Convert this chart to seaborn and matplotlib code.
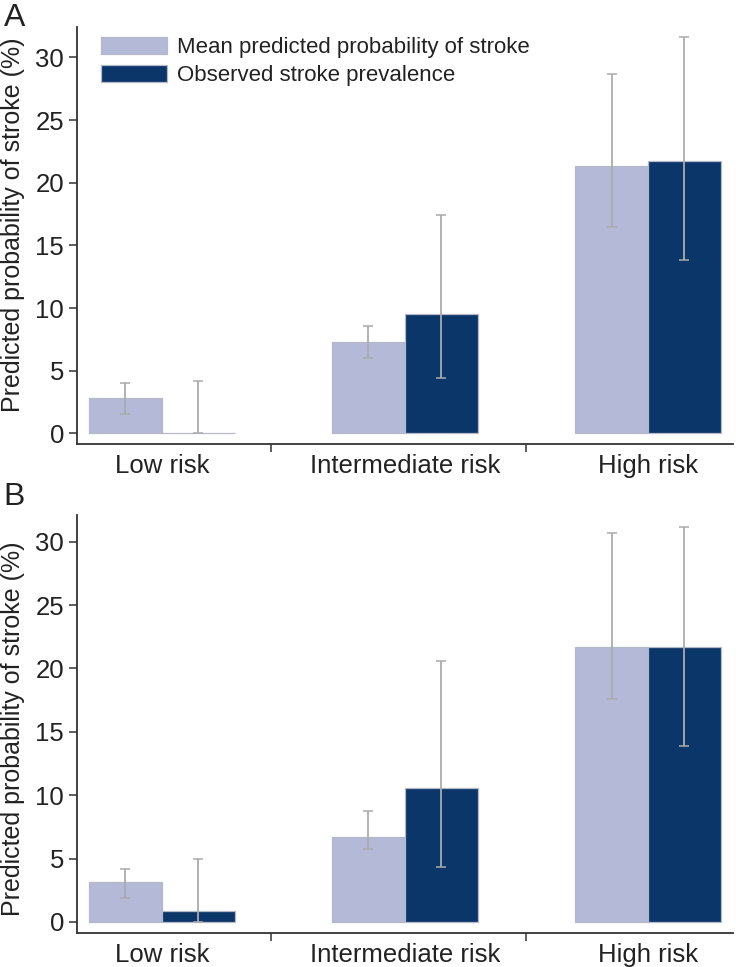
import matplotlib
matplotlib.use("Agg")
import matplotlib.pyplot as plt
import seaborn as sns
import pandas as pd
import numpy as np
from matplotlib.ticker import FixedLocator

categories = ["Low risk", "Intermediate risk", "High risk"]
series = ["Mean predicted probability of stroke", "Observed stroke prevalence"]

# Panel A
a_pred = [2.84, 7.26, 21.36]
a_pred_lo = [1.52, 5.99, 16.5]
a_pred_hi = [3.99, 8.59, 28.7]
a_obs = [0.0, 9.52, 21.7]
a_obs_lo = [0.0, 4.44, 13.8]
a_obs_hi = [4.2, 17.4, 31.6]

# Panel B
b_pred = [3.16, 6.71, 21.7]
b_pred_lo = [1.9, 5.79, 17.58]
b_pred_hi = [4.2, 8.74, 30.7]
b_obs = [0.87, 10.58, 21.65]
b_obs_lo = [0.0, 4.32, 13.9]
b_obs_hi = [5.0, 20.6, 31.18]

yticks = [0, 5, 10, 15, 20, 25, 30]

light = "#B3B9D7"
dark = "#0B3669"
err_col = "#ABABAB"
txt = "#222222"

sns.set_theme(style="white")
plt.rcParams["font.family"] = ["Liberation Sans", "DejaVu Sans"]

fig = plt.figure(figsize=(7.36, 9.67), dpi=100)
axA = fig.add_axes([0.1042, 0.5405, 0.8918, 0.4319])
axB = fig.add_axes([0.1042, 0.0348, 0.8918, 0.4326])

def panel(ax, pred, plo, phi, obs, olo, ohi, ylim, legend, label_y):
    df = pd.DataFrame({
        "risk": categories * 2,
        "series": [series[0]] * 3 + [series[1]] * 3,
        "value": list(pred) + list(obs),
    })
    sns.barplot(data=df, x="risk", y="value", hue="series", order=categories,
                hue_order=series, palette=[light, dark], width=0.6,
                errorbar=None, ax=ax, linewidth=0.9, edgecolor="#B4B8C8",
                saturation=1, legend=legend)
    bar_conts = [c for c in ax.containers]
    lows = [plo, olo]
    highs = [phi, ohi]
    vals = [pred, obs]
    for k, cont in enumerate(bar_conts):
        xs = [b.get_x() + b.get_width() / 2 for b in cont.patches]
        v = np.array(vals[k]); lo = np.array(lows[k]); hi = np.array(highs[k])
        ax.errorbar(xs, v, yerr=[v - lo, hi - v], fmt="none", ecolor=err_col,
                    elinewidth=1.3, capsize=3.5, capthick=1.1, zorder=5)
    ax.set_xlim(-0.35, 2.35)
    ax.set_ylim(*ylim)
    ax.set_yticks(yticks)
    ax.set_xlabel("")
    ax.set_ylabel("Predicted probability of stroke (%)", fontsize=18, color=txt)
    ax.yaxis.set_label_coords(-0.079, label_y)
    ax.tick_params(axis="y", which="major", length=6, width=1.1, color="#333333",
                   labelsize=18.5, labelcolor=txt, left=True, pad=3)
    ax.tick_params(axis="x", which="major", length=0, labelsize=18.5, labelcolor=txt, pad=7)
    ax.xaxis.set_minor_locator(FixedLocator([0.45, 1.5]))
    ax.tick_params(axis="x", which="minor", length=6, width=1.1, color="#333333",
                   bottom=True, direction="out")
    for s in ["top", "right"]:
        ax.spines[s].set_visible(False)
    for s in ["left", "bottom"]:
        ax.spines[s].set_color("#333333")
        ax.spines[s].set_linewidth(1.3)
    if legend:
        ax.legend(loc="upper left", bbox_to_anchor=(0.013, 1.013), frameon=False,
                  fontsize=16, handlelength=3.0, handleheight=0.8,
                  handletextpad=0.45, labelspacing=0.3, borderaxespad=0.3,
                  labelcolor=txt)

panel(axA, a_pred, a_pred_lo, a_pred_hi, a_obs, a_obs_lo, a_obs_hi, (-0.88, 32.45), True, 0.525)
panel(axB, b_pred, b_pred_lo, b_pred_hi, b_obs, b_obs_lo, b_obs_hi, (-0.9, 32.1), False, 0.49)

fig.text(0.005, (967 - 26) / 967, "A", fontsize=23, color=txt, va="baseline", ha="left")
fig.text(0.005, (967 - 505) / 967, "B", fontsize=23, color=txt, va="baseline", ha="left")

fig.savefig("out.png", dpi=100)
